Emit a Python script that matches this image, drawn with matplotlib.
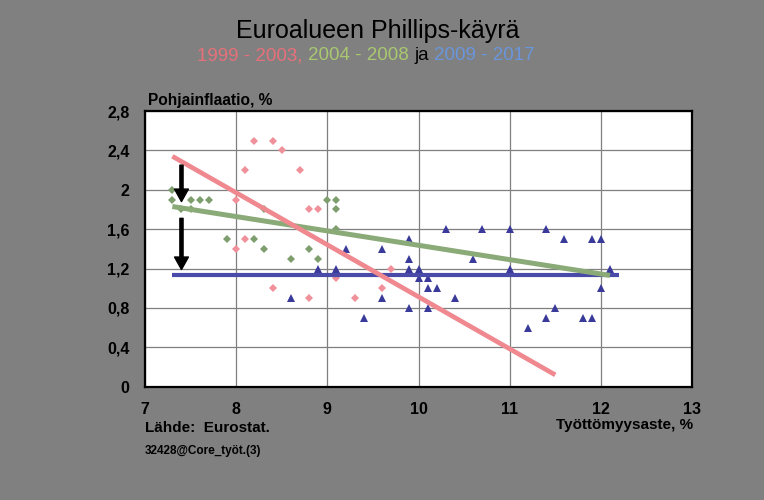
import matplotlib
matplotlib.use("Agg")
import matplotlib.pyplot as plt
from matplotlib.ticker import FixedLocator, FixedFormatter

# --- data ---
# 1999-2003 (pink diamonds): unemployment %, core inflation %
p1_x = [8.2, 8.4, 8.5, 8.1, 8.7, 8.0, 8.0, 8.1, 8.8, 8.9, 8.4, 8.8, 9.1, 9.3, 9.6, 9.7]
p1_y = [2.5, 2.5, 2.4, 2.2, 2.2, 1.9, 1.4, 1.5, 1.8, 1.8, 1.0, 0.9, 1.1, 0.9, 1.0, 1.2]

# 2004-2008 (green diamonds)
p2_x = [7.3, 7.3, 7.5, 7.6, 7.7, 7.4, 7.5, 7.9, 8.2, 8.3, 8.3, 8.6, 8.8, 8.9, 9.0, 9.1, 9.1, 9.1]
p2_y = [2.0, 1.9, 1.9, 1.9, 1.9, 1.8, 1.8, 1.5, 1.5, 1.8, 1.4, 1.3, 1.4, 1.3, 1.9, 1.9, 1.8, 1.6]

# 2009-2017 (blue triangles)
p3_x = [8.6, 8.9, 9.1, 9.2, 9.4, 9.6, 9.6, 9.9, 9.9, 9.9, 9.9, 10.0, 10.0, 10.1, 10.1, 10.1, 10.2,
        10.3, 10.4, 10.6, 10.7, 11.0, 11.0, 11.2, 11.4, 11.4, 11.5, 11.6, 11.8, 11.9, 11.9, 12.0,
        12.0, 12.1]
p3_y = [0.9, 1.2, 1.2, 1.4, 0.7, 1.4, 0.9, 1.5, 1.3, 1.2, 0.8, 1.2, 1.1, 1.1, 1.0, 0.8, 1.0,
        1.6, 0.9, 1.3, 1.6, 1.6, 1.2, 0.6, 1.6, 0.7, 0.8, 1.5, 0.7, 1.5, 0.7, 1.5,
        1.0, 1.2]

# linear trend lines (end points)
t1_x, t1_y = [7.3, 11.5], [2.34, 0.12]
t2_x, t2_y = [7.3, 12.1], [1.83, 1.13]
t3_x, t3_y = [7.3, 12.2], [1.13, 1.13]

# arrows: x, from y, to y
arrow_x = [7.4, 7.4]
arrow_from = [2.25, 1.71]
arrow_to = [1.88, 1.19]

x_ticks = [7, 8, 9, 10, 11, 12, 13]
y_ticks = [0, 0.4, 0.8, 1.2, 1.6, 2.0, 2.4, 2.8]
y_labels = ["0", "0,4", "0,8", "1,2", "1,6", "2", "2,4", "2,8"]

sub_parts = ["1999 - 2003, ", "2004 - 2008 ", "ja ", "2009 - 2017"]
sub_colors = ["#E8707A", "#A9C870", "black", "#6A96DC"]

plt.rcParams["font.family"] = ["Liberation Sans", "DejaVu Sans"]

bg = "#808080"
fig = plt.figure(figsize=(7.64, 5.0), dpi=100, facecolor=bg)
ax = fig.add_axes([0.1898, 0.2266, 0.7160, 0.5514])
ax.set_facecolor("white")

ax.plot(p1_x, p1_y, "D", color="#F0909A", markersize=3.9, markeredgewidth=0, zorder=3)
ax.plot(p2_x, p2_y, "D", color="#7F9E6E", markersize=4.4, markeredgewidth=0, zorder=3)
ax.plot(p3_x, p3_y, "^", color="#3A3A9A", markersize=5.3, markeredgewidth=0, zorder=3)

ax.plot(t3_x, t3_y, color="#4A4AA8", lw=3.0, solid_capstyle="butt", zorder=4)
ax.plot(t2_x, t2_y, color="#8AAA78", lw=3.6, solid_capstyle="butt", zorder=5)
ax.plot(t1_x, t1_y, color="#F08890", lw=3.4, solid_capstyle="butt", zorder=6)

for xa, y0, y1 in zip(arrow_x, arrow_from, arrow_to):
    ax.annotate("", xy=(xa, y1), xytext=(xa, y0),
                arrowprops=dict(facecolor="black", edgecolor="black", width=2.3,
                                headwidth=10, headlength=9, shrink=0),
                zorder=7)

ax.set_xlim(7, 13)
ax.set_ylim(0, 2.8)
ax.xaxis.set_major_locator(FixedLocator(x_ticks))
ax.yaxis.set_major_locator(FixedLocator(y_ticks))
ax.yaxis.set_major_formatter(FixedFormatter(y_labels))
ax.grid(True, color="#7F7F7F", lw=0.9, zorder=0)
ax.set_axisbelow(True)
ax.tick_params(length=0, labelsize=11.5, pad=11)
for lab in ax.get_xticklabels() + ax.get_yticklabels():
    lab.set_fontweight("bold")
for s in ax.spines.values():
    s.set_linewidth(1.6)
    s.set_color("black")

ax.text(0.005, 1.012, "Pohjainflaatio, %", transform=ax.transAxes, fontsize=11.2,
        fontweight="bold", ha="left", va="bottom")
fig.text(693 / 764, 1 - 425 / 500, "Työttömyysaste, %", fontsize=11,
         fontweight="bold", ha="right", va="center")
fig.text(145 / 764, 1 - 428 / 500, "Lähde:  Eurostat.", fontsize=11,
         fontweight="bold", ha="left", va="center")
fig.text(145 / 764, 1 - 451 / 500, "32428@Core_työt.(3)", fontsize=8.5,
         fontweight="bold", ha="left", va="center")

fig.text(378 / 764, 1 - 31 / 500, "Euroalueen Phillips-käyrä", fontsize=18,
         ha="center", va="center")

# multi-coloured subtitle, centred as a whole
renderer = fig.canvas.get_renderer()
texts = []
for part, col in zip(sub_parts, sub_colors):
    t = fig.text(0, 1 - 56 / 500, part, fontsize=13.5, color=col, ha="left", va="center")
    texts.append(t)
widths = [t.get_window_extent(renderer).width for t in texts]
x0 = 366 - sum(widths) / 2
for t, w in zip(texts, widths):
    t.set_x(x0 / 764)
    x0 += w

fig.savefig("out.png", dpi=100, facecolor=bg)
